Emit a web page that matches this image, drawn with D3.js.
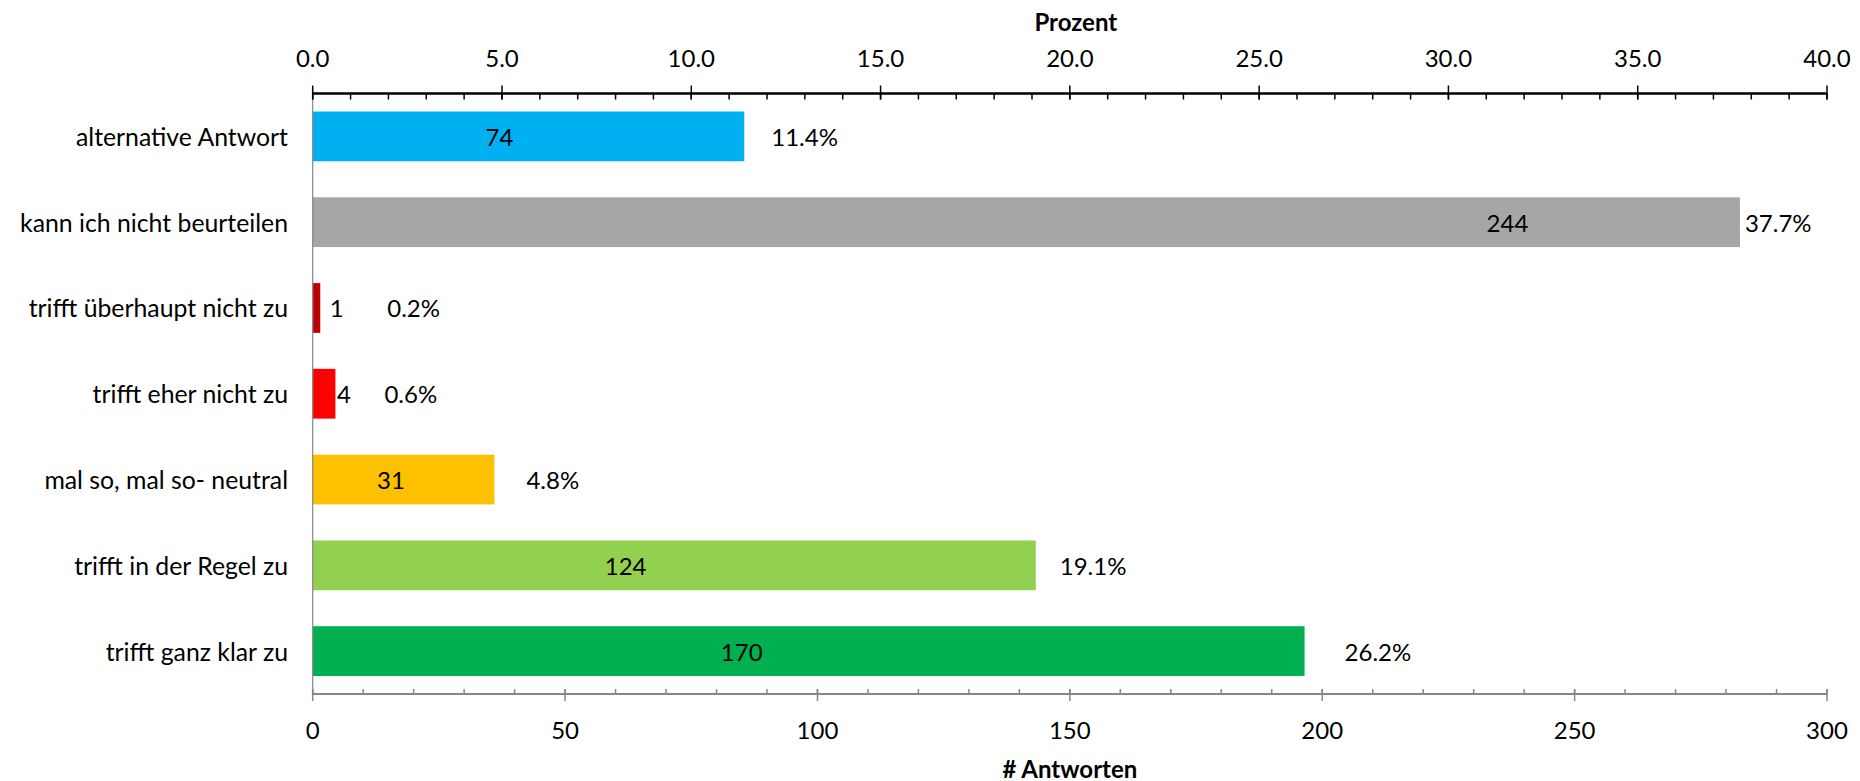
<!DOCTYPE html>
<html>
<head>
<meta charset="utf-8">
<script src="https://cdn.jsdelivr.net/npm/d3@7"></script>
<style>
  html, body { margin: 0; padding: 0; background: #fff; }
  svg { display: block; }
  text { font-family: Lato, "Open Sans", sans-serif; fill: #000; }
</style>
</head>
<body>
<svg id="chart" width="1860" height="781"></svg>
<script>
// ---- data ----
const categories = [
  "alternative Antwort",
  "kann ich nicht beurteilen",
  "trifft überhaupt nicht zu",
  "trifft eher nicht zu",
  "mal so, mal so- neutral",
  "trifft in der Regel zu",
  "trifft ganz klar zu"
];
const counts   = [74, 244, 1, 4, 31, 124, 170];
const percents = [11.4, 37.7, 0.2, 0.6, 4.8, 19.1, 26.2];
const barColors = ["#00B0F0", "#A6A6A6", "#C00000", "#FF0000", "#FFC000", "#92D050", "#00B050"];
const pctTicks   = [0, 5, 10, 15, 20, 25, 30, 35, 40];
const countTicks = [0, 50, 100, 150, 200, 250, 300];

// ---- layout (label placement as in the original chart) ----
const countLabelAnchor = ["center", "insideEnd", "outsideEnd", "outsideEnd", "center", "center", "center"];
const countLabelGap    = [0, 16, 12, 4, 0, 0, 0];
const pctLabelGap      = [27, 5, 67, 49, 32, 24, 40];

const svg = d3.select("#chart");
const pLeft = 312.7, pRight = 1827, pTop = 93.5, pBottom = 694;
const FS = 24;
const FS_CAT = 24.8;

const xPct = d3.scaleLinear().domain([0, 40]).range([pLeft, pRight]);
const xCnt = d3.scaleLinear().domain([0, 300]).range([pLeft, pRight]);
const y = d3.scaleBand().domain(categories).range([pTop, pBottom])
  .paddingInner(0.42).paddingOuter(0.21);

// bars (percent series on top axis)
svg.append("g").selectAll("rect").data(categories).join("rect")
  .attr("x", xPct(0))
  .attr("y", d => y(d))
  .attr("width", (d, i) => xPct(percents[i]) - xPct(0))
  .attr("height", y.bandwidth())
  .attr("fill", (d, i) => barColors[i]);

// vertical category axis line
svg.append("line")
  .attr("x1", pLeft).attr("x2", pLeft).attr("y1", pTop).attr("y2", pBottom)
  .attr("stroke", "#868686").attr("stroke-width", 1.2);

// category labels
svg.append("g").selectAll("text").data(categories).join("text")
  .attr("x", 288).attr("y", d => y(d) + y.bandwidth() / 2)
  .attr("text-anchor", "end").attr("dominant-baseline", "central")
  .attr("font-size", FS_CAT).text(d => d);

// count labels
svg.append("g").selectAll("text").data(categories).join("text")
  .attr("x", (d, i) => {
    const a = countLabelAnchor[i];
    if (a === "center") return (xCnt(0) + xCnt(counts[i])) / 2;
    if (a === "insideEnd") return xCnt(counts[i]) - countLabelGap[i];
    return xCnt(counts[i]) + countLabelGap[i];
  })
  .attr("text-anchor", (d, i) => {
    const a = countLabelAnchor[i];
    return a === "center" ? "middle" : (a === "insideEnd" ? "end" : "start");
  })
  .attr("y", d => y(d) + y.bandwidth() / 2)
  .attr("dominant-baseline", "central")
  .attr("font-size", FS).text((d, i) => counts[i]);

// percent labels
svg.append("g").selectAll("text").data(categories).join("text")
  .attr("x", (d, i) => xPct(percents[i]) + pctLabelGap[i])
  .attr("y", d => y(d) + y.bandwidth() / 2)
  .attr("dominant-baseline", "central")
  .attr("font-size", FS).text((d, i) => percents[i].toFixed(1) + "%");

// ---- top axis (Prozent) ----
const gTop = svg.append("g");
const pctMinor = d3.range(0, 41, 1);
gTop.selectAll("line.minor").data(pctMinor).join("line")
  .attr("x1", d => xPct(d)).attr("x2", d => xPct(d))
  .attr("y1", pTop).attr("y2", pTop + 6)
  .attr("stroke", "#000").attr("stroke-width", 1.5);
gTop.selectAll("line.major").data(pctTicks).join("line")
  .attr("x1", d => xPct(d)).attr("x2", d => xPct(d))
  .attr("y1", pTop - 8).attr("y2", pTop + 6)
  .attr("stroke", "#000").attr("stroke-width", 1.5);
gTop.append("line")
  .attr("x1", pLeft).attr("x2", pRight).attr("y1", pTop).attr("y2", pTop)
  .attr("stroke", "#000").attr("stroke-width", 2.5);
gTop.selectAll("text").data(pctTicks).join("text")
  .attr("x", d => xPct(d)).attr("y", 57)
  .attr("text-anchor", "middle").attr("dominant-baseline", "central")
  .attr("font-size", FS).text(d => d.toFixed(1));
svg.append("text")
  .attr("x", (pLeft + pRight) / 2 + 6).attr("y", 21)
  .attr("text-anchor", "middle").attr("dominant-baseline", "central")
  .attr("font-size", FS).attr("font-weight", "bold").text("Prozent");

// ---- bottom axis (# Antworten) ----
const gBot = svg.append("g");
const cntMinor = d3.range(0, 301, 10);
gBot.selectAll("line.minor").data(cntMinor).join("line")
  .attr("x1", d => xCnt(d)).attr("x2", d => xCnt(d))
  .attr("y1", pBottom - 5).attr("y2", pBottom)
  .attr("stroke", "#868686").attr("stroke-width", 1.5);
gBot.selectAll("line.major").data(countTicks).join("line")
  .attr("x1", d => xCnt(d)).attr("x2", d => xCnt(d))
  .attr("y1", pBottom - 5).attr("y2", pBottom + 7)
  .attr("stroke", "#868686").attr("stroke-width", 1.5);
gBot.append("line")
  .attr("x1", pLeft).attr("x2", pRight).attr("y1", pBottom).attr("y2", pBottom)
  .attr("stroke", "#868686").attr("stroke-width", 2.2);
gBot.selectAll("text").data(countTicks).join("text")
  .attr("x", d => xCnt(d)).attr("y", 729)
  .attr("text-anchor", "middle").attr("dominant-baseline", "central")
  .attr("font-size", FS).text(d => d);
svg.append("text")
  .attr("x", (pLeft + pRight) / 2).attr("y", 768)
  .attr("text-anchor", "middle").attr("dominant-baseline", "central")
  .attr("font-size", FS).attr("font-weight", "bold").text("# Antworten");
</script>
</body>
</html>
